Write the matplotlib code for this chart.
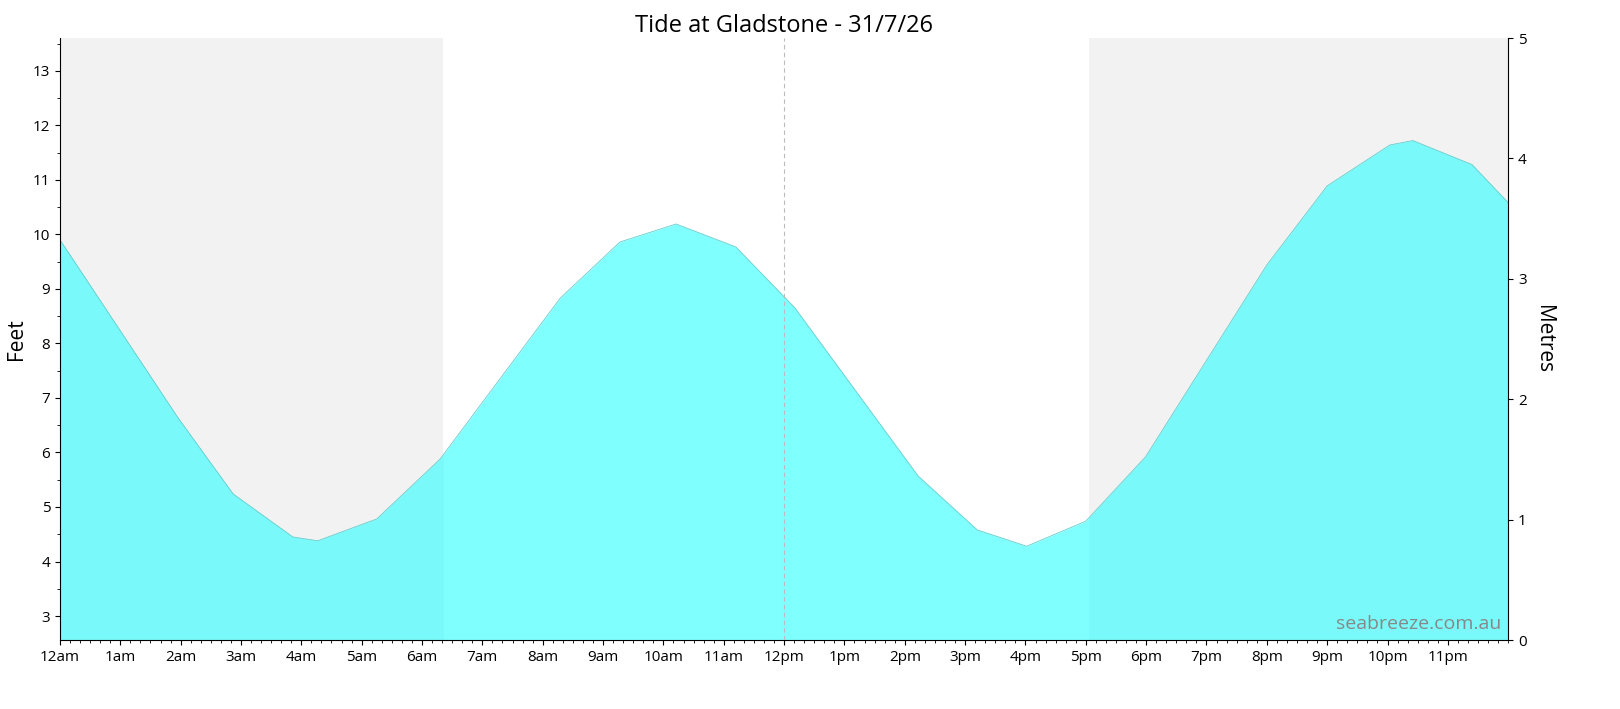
import matplotlib.pyplot as plt
from matplotlib.patches import Rectangle
from matplotlib.ticker import MultipleLocator

plt.rcParams["font.family"] = ["Open Sans", "DejaVu Sans"]

# tide points: hours since midnight, height in feet
hours = [0, 1.96, 2.87, 3.86, 4.27, 5.25, 6.3, 8.29, 9.28, 10.21, 11.2, 12.18,
         14.22, 15.2, 16.02, 17.0, 17.99, 20.0, 21.0, 22.04, 22.42, 23.4, 24]
feet = [9.90, 6.63, 5.24, 4.45, 4.38, 4.78, 5.88, 8.83, 9.86, 10.19, 9.77, 8.65,
        5.57, 4.58, 4.28, 4.74, 5.92, 9.44, 10.89, 11.64, 11.72, 11.28, 10.58]
night = [(0, 6.35), (17.05, 24)]
hour_labels = ["12am"] + [f"{h}am" for h in range(1, 12)] + ["12pm"] + [f"{h}pm" for h in range(1, 12)]

Y_MIN, Y_MAX = 2.56, 13.6

fig = plt.figure(figsize=(16.2, 7.09), dpi=100)
ax = fig.add_axes([0.037, 0.0973, 0.894, 0.849])

for start, end in night:
    ax.axvspan(start, end, color="#f2f2f2", lw=0, zorder=0)
ax.fill_between(hours, feet, Y_MIN, color="#80ffff", lw=0, zorder=1)
# slightly darker water during night hours
for start, end in night:
    poly = ax.fill_between(hours, feet, Y_MIN, color="#79f9f9", lw=0, zorder=1.5)
    clip = Rectangle((start, Y_MIN), end - start, Y_MAX - Y_MIN, transform=ax.transData)
    poly.set_clip_path(clip)
ax.plot(hours, feet, color="#66cccc", lw=0.6, zorder=2)
ax.axvline(12, color="#bbbbbb", ls=(0, (4, 3)), lw=0.8, zorder=3)

ax.set_xlim(0, 24)
ax.set_ylim(Y_MIN, Y_MAX)
ax.set_xticks(range(24))
ax.set_xticklabels(hour_labels, fontsize=11)
ax.xaxis.set_minor_locator(MultipleLocator(1 / 6))
ax.yaxis.set_major_locator(MultipleLocator(1))
ax.yaxis.set_minor_locator(MultipleLocator(0.5))
ax.tick_params(labelsize=11)
ax.set_ylabel("Feet", fontsize=15)
for s in ["top", "right"]:
    ax.spines[s].set_visible(False)

ax2 = ax.twinx()
ax2.set_ylim(0, 5)
ax2.yaxis.set_major_locator(MultipleLocator(1))
ax2.tick_params(labelsize=11)
ax2.set_ylabel("Metres", fontsize=15, rotation=270, labelpad=20)
for s in ["top", "left", "bottom"]:
    ax2.spines[s].set_visible(False)

ax.set_title("Tide at Gladstone - 31/7/26", fontsize=17, pad=4)
ax.text(0.995, 0.012, "seabreeze.com.au", transform=ax.transAxes, ha="right",
        va="bottom", fontsize=14, color="#888888", zorder=4)

fig.savefig("out.png")
